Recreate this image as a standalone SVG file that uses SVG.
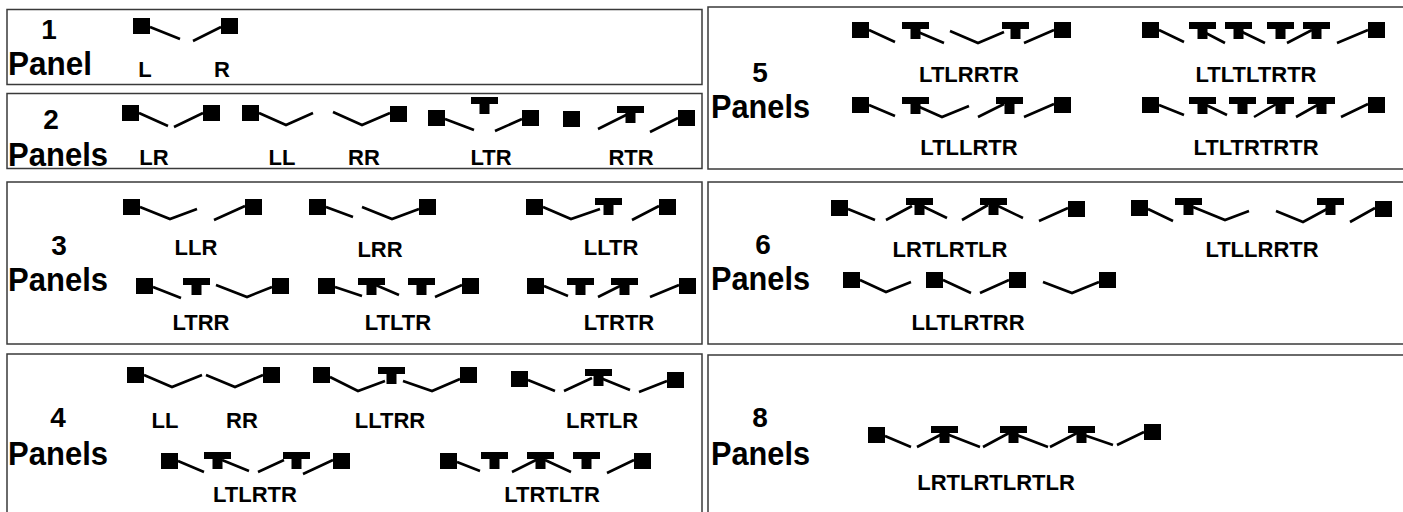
<svg xmlns="http://www.w3.org/2000/svg" xmlns:xlink="http://www.w3.org/1999/xlink" width="1403" height="512" viewBox="0 0 1403 512">
<style>
.box{fill:none;stroke:#3a3a3a;stroke-width:1.5}
.seg{fill:none;stroke:#000;stroke-width:2.6}
.num{font-family:"Liberation Sans",Arial,sans-serif;font-weight:bold;font-size:28px;text-anchor:middle;fill:#000}
.pan{font-family:"Liberation Sans",Arial,sans-serif;font-weight:bold;font-size:33px;fill:#000}
.lbl{font-family:"Liberation Sans",Arial,sans-serif;font-weight:bold;font-size:22px;text-anchor:middle;fill:#000}
</style>
<defs>
<rect id="sq" width="17" height="16" fill="#000"/>
<path id="tee" d="M0 0h27v7h-8.5v10h-10v-10h-8.5z" fill="#000"/>
</defs>
<rect width="1403" height="512" fill="#fff"/>

<g id="panel-1">
<rect class="box" x="7" y="9.5" width="695" height="75"/>
<text class="num" x="49" y="39">1</text>
<text class="pan" x="8" y="75" textLength="84" lengthAdjust="spacingAndGlyphs">Panel</text>
<g id="g1-L"><use xlink:href="#sq" x="133" y="18"/><path class="seg" d="M150 27L180 39"/></g>
<g id="g1-R"><path class="seg" d="M193 41L221 27"/><use xlink:href="#sq" x="221" y="18"/></g>
<text class="lbl" x="145" y="77">L</text>
<text class="lbl" x="222" y="77">R</text>
</g>

<g id="panel-2">
<rect class="box" x="7" y="93.5" width="695" height="75"/>
<text class="num" x="51" y="129">2</text>
<text class="pan" x="8" y="166" textLength="100" lengthAdjust="spacingAndGlyphs">Panels</text>
<g id="g2-LR"><use xlink:href="#sq" x="122" y="105"/><path class="seg" d="M139 113L168 126M174 127L203 113"/><use xlink:href="#sq" x="203" y="105"/></g>
<g id="g2-LL"><use xlink:href="#sq" x="242" y="105"/><path class="seg" d="M259 113L286 125L313 113"/></g>
<g id="g2-RR"><path class="seg" d="M333 112L362 125L390 113"/><use xlink:href="#sq" x="390" y="106"/></g>
<g id="g2-LTR"><use xlink:href="#sq" x="428" y="110"/><path class="seg" d="M445 119L474 130M495 131L522 119"/><use xlink:href="#tee" x="471" y="97"/><use xlink:href="#sq" x="522" y="110"/></g>
<g id="g2-RTR"><use xlink:href="#sq" x="563" y="111"/><path class="seg" d="M598 129L628 114M650 132L678 118"/><use xlink:href="#tee" x="617" y="106"/><use xlink:href="#sq" x="678" y="110"/></g>
<text class="lbl" x="154" y="165">LR</text>
<text class="lbl" x="282" y="165">LL</text>
<text class="lbl" x="364" y="165">RR</text>
<text class="lbl" x="491" y="165">LTR</text>
<text class="lbl" x="631" y="165">RTR</text>
</g>

<g id="panel-3">
<rect class="box" x="7" y="182" width="695" height="162"/>
<text class="num" x="59" y="255">3</text>
<text class="pan" x="8" y="291" textLength="100" lengthAdjust="spacingAndGlyphs">Panels</text>
<g id="g3-LLR"><use xlink:href="#sq" x="123" y="199"/><path class="seg" d="M140 207L170 219L197 209M214 220L245 206"/><use xlink:href="#sq" x="245" y="199"/></g>
<g id="g3-LRR"><use xlink:href="#sq" x="309" y="199"/><path class="seg" d="M326 207L353 217M362 207L392 219L419 209"/><use xlink:href="#sq" x="419" y="199"/></g>
<g id="g3-LLTR"><use xlink:href="#sq" x="526" y="199"/><path class="seg" d="M543 207L571 219L600 209M632 220L659 206"/><use xlink:href="#tee" x="595" y="198"/><use xlink:href="#sq" x="659" y="199"/></g>
<g id="g3-LTRR"><use xlink:href="#sq" x="136" y="278"/><path class="seg" d="M153 287L181 298M216 285L247 297L272 287"/><use xlink:href="#tee" x="183" y="278"/><use xlink:href="#sq" x="272" y="278"/></g>
<g id="g3-LTLTR"><use xlink:href="#sq" x="318" y="278"/><path class="seg" d="M335 287L362 296M371 283L399 295M435 297L462 285"/><use xlink:href="#tee" x="358" y="278"/><use xlink:href="#tee" x="408" y="278"/><use xlink:href="#sq" x="462" y="278"/></g>
<g id="g3-LTRTR"><use xlink:href="#sq" x="527" y="278"/><path class="seg" d="M544 286L568 296M598 297L624 284M650 297L679 285"/><use xlink:href="#tee" x="567" y="278"/><use xlink:href="#tee" x="611" y="278"/><use xlink:href="#sq" x="679" y="278"/></g>
<text class="lbl" x="196" y="255">LLR</text>
<text class="lbl" x="380" y="257">LRR</text>
<text class="lbl" x="611" y="255">LLTR</text>
<text class="lbl" x="201" y="330">LTRR</text>
<text class="lbl" x="398" y="330">LTLTR</text>
<text class="lbl" x="619" y="330">LTRTR</text>
</g>

<g id="panel-4">
<rect class="box" x="7" y="354" width="695" height="170"/>
<text class="num" x="58" y="427">4</text>
<text class="pan" x="8" y="465" textLength="100" lengthAdjust="spacingAndGlyphs">Panels</text>
<g id="g4-LLRR"><use xlink:href="#sq" x="127" y="367"/><path class="seg" d="M144 375L172 387L202 375M206 375L235 387L263 375"/><use xlink:href="#sq" x="263" y="367"/></g>
<g id="g4-LLTRR"><use xlink:href="#sq" x="313" y="367"/><path class="seg" d="M330 377L358 391L385 381M403 381L432 391L460 379"/><use xlink:href="#tee" x="378" y="367"/><use xlink:href="#sq" x="460" y="367"/></g>
<g id="g4-LRTLR"><use xlink:href="#sq" x="511" y="371"/><path class="seg" d="M528 380L555 391M564 391L592 378M598 377L630 390M639 392L667 381"/><use xlink:href="#tee" x="585" y="369"/><use xlink:href="#sq" x="667" y="372"/></g>
<g id="g4-LTLRTR"><use xlink:href="#sq" x="161" y="453"/><path class="seg" d="M178 461L204 472M222 460L249 471M258 472L284 460M303 474L333 460"/><use xlink:href="#tee" x="204" y="452"/><use xlink:href="#tee" x="283" y="452"/><use xlink:href="#sq" x="333" y="453"/></g>
<g id="g4-LTRTLTR"><use xlink:href="#sq" x="440" y="453"/><path class="seg" d="M457 462L480 471M512 472L538 459M545 460L571 472M607 473L634 460"/><use xlink:href="#tee" x="481" y="452"/><use xlink:href="#tee" x="527" y="452"/><use xlink:href="#tee" x="573" y="452"/><use xlink:href="#sq" x="634" y="453"/></g>
<text class="lbl" x="165" y="428">LL</text>
<text class="lbl" x="242" y="428">RR</text>
<text class="lbl" x="390" y="428">LLTRR</text>
<text class="lbl" x="602" y="428">LRTLR</text>
<text class="lbl" x="255" y="502">LTLRTR</text>
<text class="lbl" x="552" y="502">LTRTLTR</text>
</g>

<g id="panel-5">
<rect class="box" x="708" y="7" width="710" height="162"/>
<text class="num" x="760" y="82">5</text>
<text class="pan" x="711" y="118" textLength="99" lengthAdjust="spacingAndGlyphs">Panels</text>
<g id="g5-LTLRRTR"><use xlink:href="#sq" x="852" y="22"/><path class="seg" d="M869 30L895 42M918 32L944 43M950 31L978 43L1004 32M1024 43L1054 30"/><use xlink:href="#tee" x="902" y="22"/><use xlink:href="#tee" x="1002" y="22"/><use xlink:href="#sq" x="1054" y="22"/></g>
<g id="g5-LTLTLTRTR"><use xlink:href="#sq" x="1142" y="22"/><path class="seg" d="M1159 30L1184 42M1200 30L1225 43M1238 30L1265 43M1287 43L1312 30M1337 43L1368 30"/><use xlink:href="#tee" x="1189" y="22"/><use xlink:href="#tee" x="1225" y="22"/><use xlink:href="#tee" x="1267" y="22"/><use xlink:href="#tee" x="1303" y="22"/><use xlink:href="#sq" x="1368" y="22"/></g>
<g id="g5-LTLLRTR"><use xlink:href="#sq" x="852" y="97"/><path class="seg" d="M869 105L895 116M915 105L942 117L969 106M978 117L1004 104M1024 117L1054 104"/><use xlink:href="#tee" x="902" y="97"/><use xlink:href="#tee" x="996" y="97"/><use xlink:href="#sq" x="1054" y="97"/></g>
<g id="g5-LTLTRTRTR"><use xlink:href="#sq" x="1142" y="97"/><path class="seg" d="M1159 105L1184 115M1202 103L1227 115M1254 117L1278 103M1296 117L1321 103M1341 117L1368 104"/><use xlink:href="#tee" x="1189" y="97"/><use xlink:href="#tee" x="1229" y="97"/><use xlink:href="#tee" x="1267" y="97"/><use xlink:href="#tee" x="1308" y="97"/><use xlink:href="#sq" x="1368" y="97"/></g>
<text class="lbl" x="969" y="82">LTLRRTR</text>
<text class="lbl" x="1256" y="82">LTLTLTRTR</text>
<text class="lbl" x="969" y="155">LTLLRTR</text>
<text class="lbl" x="1256" y="155">LTLTRTRTR</text>
</g>

<g id="panel-6">
<rect class="box" x="708" y="182" width="710" height="162"/>
<text class="num" x="763" y="254">6</text>
<text class="pan" x="711" y="290" textLength="99" lengthAdjust="spacingAndGlyphs">Panels</text>
<g id="g6-LRTLRTLR"><use xlink:href="#sq" x="831" y="200"/><path class="seg" d="M848 209L875 220M886 220L912 206M920 205L947 218M962 220L988 205M996 205L1023 218M1039 221L1068 208"/><use xlink:href="#tee" x="906" y="198"/><use xlink:href="#tee" x="980" y="198"/><use xlink:href="#sq" x="1068" y="201"/></g>
<g id="g6-LTLLRRTR"><use xlink:href="#sq" x="1131" y="200"/><path class="seg" d="M1148 209L1173 221M1193 207L1225 220L1249 211M1276 211L1303 222L1327 209M1350 222L1375 208"/><use xlink:href="#tee" x="1175" y="198"/><use xlink:href="#tee" x="1317" y="198"/><use xlink:href="#sq" x="1375" y="201"/></g>
<g id="g6-LLTLRTRR"><use xlink:href="#sq" x="843" y="272"/><path class="seg" d="M860 280L886 292L911 282M943 280L971 293M980 293L1009 280M1043 282L1072 293L1099 282"/><use xlink:href="#sq" x="926" y="272"/><use xlink:href="#sq" x="1009" y="272"/><use xlink:href="#sq" x="1099" y="272"/></g>
<text class="lbl" x="950" y="257">LRTLRTLR</text>
<text class="lbl" x="1262" y="257">LTLLRRTR</text>
<text class="lbl" x="968" y="330">LLTLRTRR</text>
</g>

<g id="panel-8">
<rect class="box" x="708" y="355" width="710" height="170"/>
<text class="num" x="760" y="427">8</text>
<text class="pan" x="711" y="465" textLength="99" lengthAdjust="spacingAndGlyphs">Panels</text>
<g id="g8-LRTLRTLRTLR"><use xlink:href="#sq" x="868" y="427"/><path class="seg" d="M885 436L911 447M917 447L944 433M944 433L980 447M983 447L1009 433M1014 434L1048 447M1050 447L1077 433M1081 434L1113 445M1117 445L1144 432"/><use xlink:href="#tee" x="931" y="426"/><use xlink:href="#tee" x="1000" y="426"/><use xlink:href="#tee" x="1068" y="426"/><use xlink:href="#sq" x="1144" y="424"/></g>
<text class="lbl" x="996" y="490">LRTLRTLRTLR</text>
</g>
</svg>
